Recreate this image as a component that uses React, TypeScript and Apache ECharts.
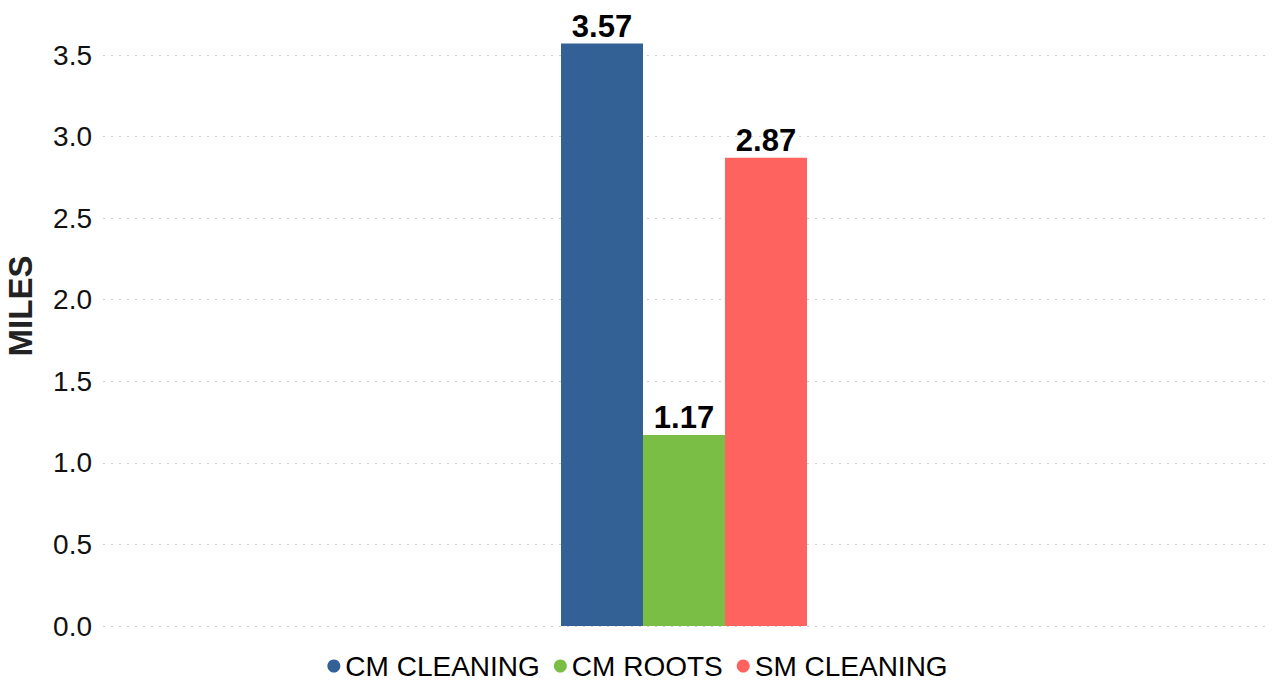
import React, { useEffect, useRef } from "react";
import * as echarts from "echarts";

const categories = [""];
const seriesNames = ["CM CLEANING", "CM ROOTS", "SM CLEANING"];
const seriesValues = [[3.57], [1.17], [2.87]];
const seriesColors = ["#336196", "#7BBE45", "#FF6360"];
const axisTitle = "MILES";

export default function App() {
  const ref = useRef<HTMLDivElement>(null);
  useEffect(() => {
    const chart = echarts.init(ref.current!, null, { renderer: "svg" });
    const font = "Liberation Sans, Arial, sans-serif";
    chart.setOption({
      animation: false,
      textStyle: { fontFamily: font },
      grid: { left: 103, right: 10, top: 55, bottom: 55 },
      legend: {
        top: 652,
        left: "center",
        padding: [0, 5],
        icon: "circle",
        itemWidth: 13,
        itemHeight: 13,
        itemGap: 14,
        textStyle: { fontSize: 28, lineHeight: 27, color: "#000", fontFamily: font },
        data: seriesNames,
      },
      xAxis: {
        type: "category",
        data: categories,
        axisLine: { show: false },
        axisTick: { show: false },
        axisLabel: { show: false },
      },
      yAxis: {
        type: "value",
        min: 0,
        max: 3.5,
        interval: 0.5,
        axisLine: { show: false },
        axisTick: { show: false },
        axisLabel: {
          fontSize: 28,
          color: "#111",
          margin: 11,
          formatter: (v: number) => v.toFixed(1),
        },
        splitLine: { lineStyle: { type: [2, 6], color: "#cfcfcf", width: 1 } },
      },
      graphic: [
        {
          type: "text",
          x: 20,
          y: 306,
          rotation: Math.PI / 2,
          style: {
            text: axisTitle,
            fontSize: 33,
            fontWeight: "bold",
            fill: "#222",
            align: "center",
            verticalAlign: "middle",
            fontFamily: font,
          },
        },
      ],
      series: seriesNames.map((name, i) => ({
        name,
        type: "bar",
        data: seriesValues[i],
        barWidth: 82,
        barGap: "0%",
        clip: false,
        itemStyle: { color: seriesColors[i] },
        label: {
          show: true,
          position: "top",
          distance: 2,
          fontSize: 31,
          fontWeight: "bold",
          color: "#000",
          formatter: (p: any) => p.value.toFixed(2),
        },
      })),
    });
    return () => chart.dispose();
  }, []);
  return (
    <div
      ref={ref}
      style={{ position: "absolute", left: 0, top: 0, width: 1275, height: 681 }}
    />
  );
}
